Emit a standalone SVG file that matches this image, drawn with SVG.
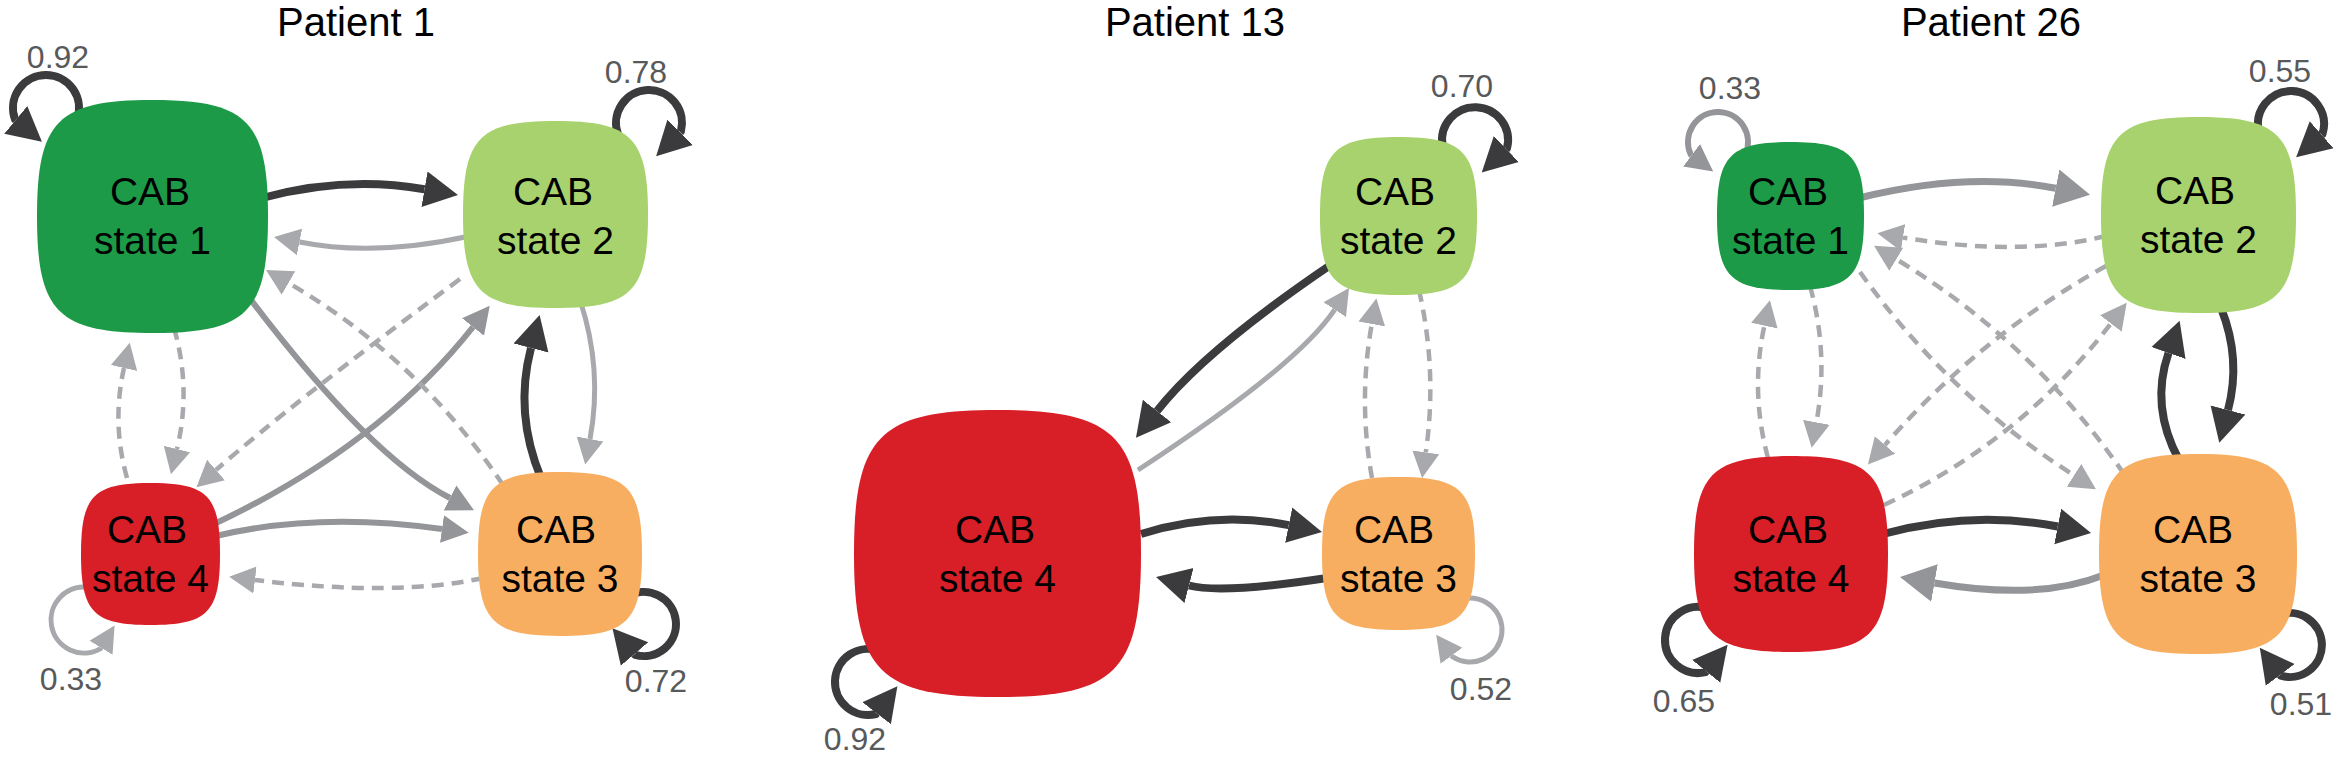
<svg xmlns="http://www.w3.org/2000/svg" width="2342" height="762" viewBox="0 0 2342 762">
<style>
.title{font-family:"Liberation Sans",Arial,sans-serif;font-size:40px;fill:#000;text-anchor:middle}
.nl{font-family:"Liberation Sans",Arial,sans-serif;font-size:39px;fill:#000;text-anchor:middle}
.num{font-family:"Liberation Sans",Arial,sans-serif;font-size:32px;fill:#58595b;text-anchor:middle}
.dk{fill:none;stroke:#3b3b3d;stroke-width:8;stroke-linejoin:round;marker-end:url(#aD)}
.md{fill:none;stroke:#939598;stroke-width:6;stroke-linejoin:round;marker-end:url(#aM)}
.mdb{fill:none;stroke:#939598;stroke-width:7;marker-end:url(#aMB)}
.lt{fill:none;stroke:#a7a9ac;stroke-width:5;stroke-linejoin:round;marker-end:url(#aL)}
.ds{fill:none;stroke:#a7a9ac;stroke-width:4.5;stroke-dasharray:12 8;marker-end:url(#aL)}
.s1{fill:#1d9a48}.s2{fill:#a7d26d}.s3{fill:#f8ae61}.s4{fill:#d81f28}
</style>
<defs>
<marker id="aD" markerUnits="userSpaceOnUse" viewBox="0 -20 40 40" markerWidth="40" markerHeight="40" refX="0" refY="0" orient="auto"><path d="M0,-18 L34,0 L0,18Z" fill="#3b3b3d"/></marker>
<marker id="aM" markerUnits="userSpaceOnUse" viewBox="0 -16 32 32" markerWidth="32" markerHeight="32" refX="0" refY="0" orient="auto"><path d="M0,-14 L27,0 L0,14Z" fill="#939598"/></marker>
<marker id="aMB" markerUnits="userSpaceOnUse" viewBox="0 -20 40 40" markerWidth="40" markerHeight="40" refX="0" refY="0" orient="auto"><path d="M0,-19 L35,0 L0,19Z" fill="#939598"/></marker>
<marker id="aL" markerUnits="userSpaceOnUse" viewBox="0 -15 30 30" markerWidth="30" markerHeight="30" refX="0" refY="0" orient="auto"><path d="M0,-13.5 L26,0 L0,13.5Z" fill="#a7a9ac"/></marker>
</defs>
<rect width="2342" height="762" fill="#fff"/>
<g id="titles">
<text class="title" x="356" y="36">Patient 1</text>
<text class="title" x="1195" y="36">Patient 13</text>
<text class="title" x="1991" y="36">Patient 26</text>
</g>
<g id="connectors">
<g id="p1-edges">
<path class="dk" d="M262,198 Q345,175.5 424.5,189.2"/>
<path class="lt" d="M470,236 Q374.5,257 299.5,242"/>
<path class="md" d="M245,292 Q368,456 450,498"/>
<path class="md" d="M214,524 Q378,447 473,327"/>
<path class="md" d="M216,536 Q318,511.5 442,529"/>
<path class="ds" d="M483,578 Q395,597 255,580"/>
<path class="lt" d="M580,300 Q603,369.5 590,439"/>
<path class="dk" d="M541,478 Q514,413 531,348"/>
<path class="ds" d="M174,328 Q191.5,388.5 177,449"/>
<path class="ds" d="M127,478 Q111.5,423 124,368"/>
<path class="ds" d="M460,279 Q290,405 216,470"/>
<path class="ds" d="M503,485 Q419,359 288.5,283"/>
<path class="dk" d="M77,119.3 A33,33 0 1 0 15,119.3 l0.77,0.64"/>
<path class="dk" d="M618,134.3 A33,33 0 1 1 680.9,131.5 l-0.71,0.71"/>
<path class="lt" d="M89.7,587.5 A33,33 0 1 0 100.5,648.6 l0.52,-0.85"/>
<path class="dk" d="M628,596.3 A32,32 0 1 1 635.2,654.8 l-0.65,-0.76"/>
</g>
<g id="p13-edges">
<path class="dk" d="M1332,264 Q1205,350 1157,411"/>
<path class="lt" d="M1138,470 Q1297.6,365.5 1334.7,309.6"/>
<path class="dk" d="M1141,534 Q1216,510.4 1288.7,525.2"/>
<path class="dk" d="M1327,578 Q1222,594 1189,585.5"/>
<path class="ds" d="M1419,290 Q1437.5,371 1425.8,452.3"/>
<path class="ds" d="M1372,478 Q1358,401 1371.8,324"/>
<path class="dk" d="M1442.5,145.7 A33,33 0 1 1 1507,148.3 l-0.72,0.69"/>
<path class="dk" d="M879.3,651 A33,33 0 1 0 876,714 l0.61,-0.79"/>
<path class="lt" d="M1459.1,599.9 A32,32 0 1 1 1452.1,656.5 l-0.59,-0.81"/>
</g>
<g id="p26-edges">
<path class="mdb" d="M1859,198 Q1967,171 2055.7,188.2"/>
<path class="ds" d="M2106,236 Q2020,257 1903,237.6"/>
<path class="ds" d="M2124,474 Q2033,342 1896.3,259.3"/>
<path class="ds" d="M1860,272 Q1947,394.7 2074,475.3"/>
<path class="ds" d="M1884,505 Q2020,442 2110.9,323.5"/>
<path class="ds" d="M2106,266 Q1980,336 1885,445"/>
<path class="ds" d="M1810,286 Q1829,354 1816.4,422.3"/>
<path class="ds" d="M1768,458 Q1750,392 1764.4,325.7"/>
<path class="dk" d="M2221,308 Q2241.5,359 2228,410"/>
<path class="dk" d="M2179,460 Q2150,406.5 2168.5,353"/>
<path class="dk" d="M1883,534 Q1971.7,509.8 2057.7,526.5"/>
<path class="mdb" d="M2104,575 Q2038.5,601 1934.5,583"/>
<path class="md" d="M1745.2,154.7 A30,30 0 1 0 1690.8,154.7 l0.8,0.6"/>
<path class="dk" d="M2259.1,132.5 A33,33 0 1 1 2322.4,134.2 l-0.75,0.66"/>
<path class="dk" d="M1709.3,609 A33,33 0 1 0 1705.6,672.1 l0.63,-0.78"/>
<path class="dk" d="M2279.1,614.9 A32,32 0 1 1 2280.8,675.7 l-0.6,-0.8"/>
</g>
<g id="loop-labels">
<text class="num" x="58" y="68">0.92</text>
<text class="num" x="636" y="83">0.78</text>
<text class="num" x="71" y="690">0.33</text>
<text class="num" x="656" y="692">0.72</text>
<text class="num" x="1462" y="97">0.70</text>
<text class="num" x="855" y="750">0.92</text>
<text class="num" x="1481" y="700">0.52</text>
<text class="num" x="1730" y="99">0.33</text>
<text class="num" x="2280" y="82">0.55</text>
<text class="num" x="1684" y="712">0.65</text>
<text class="num" x="2301" y="715">0.51</text>
</g>
</g>
<g id="p1-state1"><path class="s1" d="M152.5,100 C247.2,100 268,121 268,216.5 C268,312 247.2,333 152.5,333 C57.8,333 37,312 37,216.5 C37,121 57.8,100 152.5,100Z"/><text class="nl" x="150" y="205">CAB</text><text class="nl" x="152.5" y="254">state 1</text></g>
<g id="p1-state2"><path class="s2" d="M555.5,121 C631.4,121 648,137.8 648,214.5 C648,291.2 631.4,308 555.5,308 C479.6,308 463,291.2 463,214.5 C463,137.8 479.6,121 555.5,121Z"/><text class="nl" x="553" y="205">CAB</text><text class="nl" x="555.5" y="254">state 2</text></g>
<g id="p1-state3"><path class="s3" d="M560,472 C627.2,472 642,486.8 642,554 C642,621.2 627.2,636 560,636 C492.8,636 478,621.2 478,554 C478,486.8 492.8,472 560,472Z"/><text class="nl" x="556" y="543">CAB</text><text class="nl" x="560" y="592">state 3</text></g>
<g id="p1-state4"><path class="s4" d="M150.5,483 C207.5,483 220,495.8 220,554 C220,612.2 207.5,625 150.5,625 C93.5,625 81,612.2 81,554 C81,495.8 93.5,483 150.5,483Z"/><text class="nl" x="147" y="543">CAB</text><text class="nl" x="150.5" y="592">state 4</text></g>
<g id="p13-state2"><path class="s2" d="M1398.5,137 C1462.9,137 1477,151.2 1477,216 C1477,280.8 1462.9,295 1398.5,295 C1334.1,295 1320,280.8 1320,216 C1320,151.2 1334.1,137 1398.5,137Z"/><text class="nl" x="1395" y="205">CAB</text><text class="nl" x="1398.5" y="254">state 2</text></g>
<g id="p13-state3"><path class="s3" d="M1398.5,477 C1461.2,477 1475,490.8 1475,553.5 C1475,616.2 1461.2,630 1398.5,630 C1335.8,630 1322,616.2 1322,553.5 C1322,490.8 1335.8,477 1398.5,477Z"/><text class="nl" x="1394" y="543">CAB</text><text class="nl" x="1398.5" y="592">state 3</text></g>
<g id="p13-state4"><path class="s4" d="M997.5,410 C1115.2,410 1141,435.8 1141,553.5 C1141,671.2 1115.2,697 997.5,697 C879.8,697 854,671.2 854,553.5 C854,435.8 879.8,410 997.5,410Z"/><text class="nl" x="995" y="543">CAB</text><text class="nl" x="997.5" y="592">state 4</text></g>
<g id="p26-state1"><path class="s1" d="M1790.5,142 C1850.8,142 1864,155.3 1864,216 C1864,276.7 1850.8,290 1790.5,290 C1730.2,290 1717,276.7 1717,216 C1717,155.3 1730.2,142 1790.5,142Z"/><text class="nl" x="1788" y="205">CAB</text><text class="nl" x="1790.5" y="254">state 1</text></g>
<g id="p26-state2"><path class="s2" d="M2198.5,117 C2278.5,117 2296,134.6 2296,215 C2296,295.4 2278.5,313 2198.5,313 C2118.5,313 2101,295.4 2101,215 C2101,134.6 2118.5,117 2198.5,117Z"/><text class="nl" x="2195" y="204">CAB</text><text class="nl" x="2198.5" y="253">state 2</text></g>
<g id="p26-state3"><path class="s3" d="M2198,454 C2279.2,454 2297,472 2297,554 C2297,636 2279.2,654 2198,654 C2116.8,654 2099,636 2099,554 C2099,472 2116.8,454 2198,454Z"/><text class="nl" x="2193" y="543">CAB</text><text class="nl" x="2198" y="592">state 3</text></g>
<g id="p26-state4"><path class="s4" d="M1791,456 C1870.5,456 1888,473.6 1888,554 C1888,634.4 1870.5,652 1791,652 C1711.5,652 1694,634.4 1694,554 C1694,473.6 1711.5,456 1791,456Z"/><text class="nl" x="1788" y="543">CAB</text><text class="nl" x="1791" y="592">state 4</text></g>
</svg>
